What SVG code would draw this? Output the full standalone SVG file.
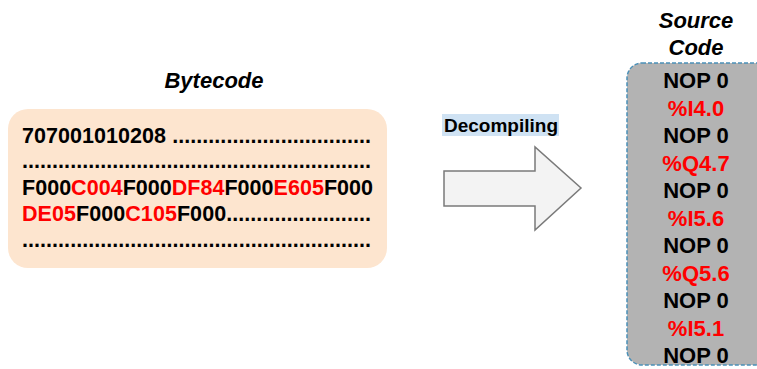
<svg xmlns="http://www.w3.org/2000/svg" width="757" height="369" viewBox="0 0 757 369">
  <style>
    text { font-family: "Liberation Sans", Arial, sans-serif; font-weight: bold; }
    .title { font-style: italic; font-size: 22px; fill: #000; text-anchor: middle; }
    .bc { font-size: 21.5px; fill: #000; }
    .src { font-size: 22px; fill: #000; text-anchor: middle; }
    .red { fill: #ff0000; }
  </style>

  <rect width="757" height="369" fill="#ffffff"/>

  <!-- Bytecode block -->
  <g id="bytecode">
    <text class="title" x="214" y="88">Bytecode</text>
    <rect x="8" y="109" width="379" height="159" rx="20" ry="20" fill="#fde5cf"/>
    <text class="bc" x="22" y="143" textLength="349" lengthAdjust="spacing">707001010208 .................................</text>
    <text class="bc" x="22" y="168" textLength="349" lengthAdjust="spacing">..........................................................</text>
    <text class="bc" x="22" y="195" textLength="351" lengthAdjust="spacing">F000<tspan class="red">C004</tspan>F000<tspan class="red">DF84</tspan>F000<tspan class="red">E605</tspan>F000</text>
    <text class="bc" x="22" y="221" textLength="349" lengthAdjust="spacing"><tspan class="red">DE05</tspan>F000<tspan class="red">C105</tspan>F000........................</text>
    <text class="bc" x="22" y="247" textLength="349" lengthAdjust="spacing">..........................................................</text>
  </g>

  <!-- Decompiling step arrow -->
  <g id="connectors">
    <rect x="442" y="114" width="117" height="22" fill="#cfe2f3"/>
    <text x="501" y="132" font-size="19" text-anchor="middle" fill="#000">Decompiling</text>
    <polygon points="444,171 535,171 535,147 581,188 535,230 535,206 444,206"
             fill="#f3f3f3" stroke="#7a7a7a" stroke-width="1.5" stroke-linejoin="miter"/>
  </g>

  <!-- Source code block -->
  <g id="source-code">
    <text class="title" x="696" y="28">Source</text>
    <text class="title" x="696" y="55">Code</text>
    <rect x="627" y="63" width="150" height="302" rx="15" ry="15" fill="#b3b3b3"
          stroke="#4a90b8" stroke-width="1.5" stroke-dasharray="4,2"/>
    <text class="src" x="696" y="88">NOP 0</text>
    <text class="src red" x="696" y="115.5">%I4.0</text>
    <text class="src" x="696" y="143">NOP 0</text>
    <text class="src red" x="696" y="170.5">%Q4.7</text>
    <text class="src" x="696" y="198">NOP 0</text>
    <text class="src red" x="696" y="225.5">%I5.6</text>
    <text class="src" x="696" y="253">NOP 0</text>
    <text class="src red" x="696" y="280.5">%Q5.6</text>
    <text class="src" x="696" y="308">NOP 0</text>
    <text class="src red" x="696" y="335.5">%I5.1</text>
    <text class="src" x="696" y="363">NOP 0</text>
  </g>
</svg>
